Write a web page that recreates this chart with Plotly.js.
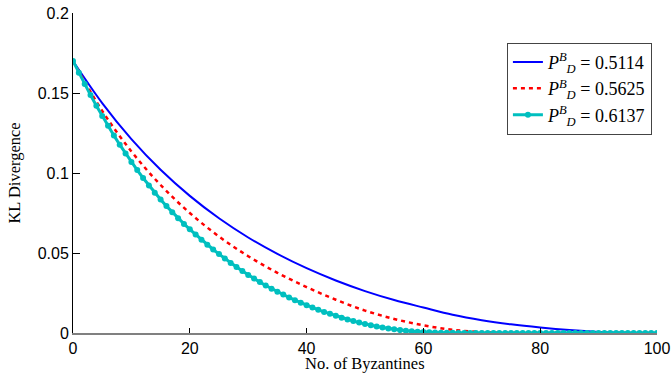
<!DOCTYPE html>
<html>
<head>
<meta charset="utf-8">
<script src="https://cdn.plot.ly/plotly-3.0.1.min.js"></script>
<style>html,body{margin:0;padding:0;background:#fff;}#chart{width:672px;height:374px;}</style>
</head>
<body>
<div id="chart"></div>
<script>
// x values (No. of Byzantines) for the smooth curves
const xCoarse = [0,5,10,15,20,25,30,35,40,45,50,55,60,65,70,75,80,85,90,95,100];
const blueKL = [0.170,0.1437,0.1212,0.1020,0.0857,0.0717,0.0597,0.0494,0.0405,0.0328,0.0262,0.0206,0.0159,0.0114,0.0080,0.0054,0.0034,0.0018,0.0007,0.0002,0];
const redKL  = [0.170,0.1388,0.1135,0.0925,0.0750,0.0603,0.0480,0.0376,0.0287,0.0208,0.0140,0.0088,0.0048,0.0020,0.0006,0.0001,0,0,0,0,0];
// cyan series has a marker at every integer
const xFine = Array.from({length:101}, (_, i) => i);
const cyanKL = [
 0.1700,0.1627,0.1556,0.1487,0.1421,0.1357,0.1295,0.1235,0.1177,0.1122,
 0.1069,0.1018,0.0969,0.0922,0.0877,0.0834,0.0793,0.0754,0.0717,0.0682,
 0.0648,0.0615,0.0583,0.0552,0.0522,0.0493,0.0465,0.0438,0.0412,0.0387,
 0.0363,0.0340,0.0318,0.0297,0.0277,0.0258,0.0240,0.0222,0.0205,0.0189,
 0.0174,0.0159,0.0145,0.0132,0.0120,0.0108,0.0096,0.0085,0.0075,0.0065,
 0.0056,0.0048,0.0041,0.0034,0.0028,0.0023,0.0018,0.0014,0.0011,0.0008,
 0.0006,0.0004,0.0003,0.0002,0.0001,0.0001,0,0,0,0,
 0,0,0,0,0,0,0,0,0,0,
 0,0,0,0,0,0,0,0,0,0,
 0,0,0,0,0,0,0,0,0,0,
 0];
const seriesNames = [
 '<i>P</i><sup><i>B</i></sup><sub><i>D</i></sub> = 0.5114',
 '<i>P</i><sup><i>B</i></sup><sub><i>D</i></sub> = 0.5625',
 '<i>P</i><sup><i>B</i></sup><sub><i>D</i></sub> = 0.6137'
];
const xTicks = [0,20,40,60,80,100];
const yTicks = [0,0.05,0.1,0.15,0.2];
const yTickText = ['0','0.05','0.1','0.15','0.2'];
const xTitle = 'No. of Byzantines';
const yTitle = 'KL Divergence';

const traces = [
 {x:xCoarse, y:blueKL, name:seriesNames[0], mode:'lines', line:{color:'#0000ff', width:2, shape:'spline', smoothing:1}},
 {x:xCoarse, y:redKL, name:seriesNames[1], mode:'lines', line:{color:'#ff0000', width:2.5, dash:'4px,4px', shape:'spline', smoothing:1}},
 {x:xFine, y:cyanKL, name:seriesNames[2], mode:'lines+markers', line:{color:'#00bfbf', width:3}, marker:{color:'#00bfbf', size:6, symbol:'circle'}}
];

const layout = {
 width:672, height:374,
 margin:{l:73, r:15, t:13, b:41},
 paper_bgcolor:'#fff', plot_bgcolor:'#fff',
 showlegend:true,
 legend:{x:0.743, y:0.907, xanchor:'left', yanchor:'top',
   bgcolor:'#fff', bordercolor:'#444', borderwidth:1,
   font:{family:'Liberation Serif, DejaVu Serif, serif', size:18, color:'#000'}},
 xaxis:{range:[0,100], tickvals:xTicks, ticks:'inside', ticklen:5, tickcolor:'#000',
   showline:true, linecolor:'#808080', linewidth:1.5, showgrid:false, zeroline:false,
   tickfont:{family:'Liberation Sans, Arial, sans-serif', size:16, color:'#000'}},
 yaxis:{range:[0,0.2], tickvals:yTicks, ticktext:yTickText, ticks:'inside', ticklen:7, tickcolor:'#000',
   showline:true, linecolor:'#000', linewidth:1, showgrid:false, zeroline:false,
   tickfont:{family:'Liberation Sans, Arial, sans-serif', size:16, color:'#000'},
   title:{text:yTitle, standoff:12, font:{family:'Liberation Serif, DejaVu Serif, serif', size:16.5, color:'#000'}}},
 annotations:[
   {text:xTitle, xref:'paper', yref:'paper', x:0.5, y:0, xanchor:'center', yanchor:'bottom', yshift:-41, borderpad:0, showarrow:false,
    font:{family:'Liberation Serif, DejaVu Serif, serif', size:16.5, color:'#000'}}
 ]
};
Plotly.newPlot('chart', traces, layout, {staticPlot:true, displayModeBar:false});
</script>
</body>
</html>
